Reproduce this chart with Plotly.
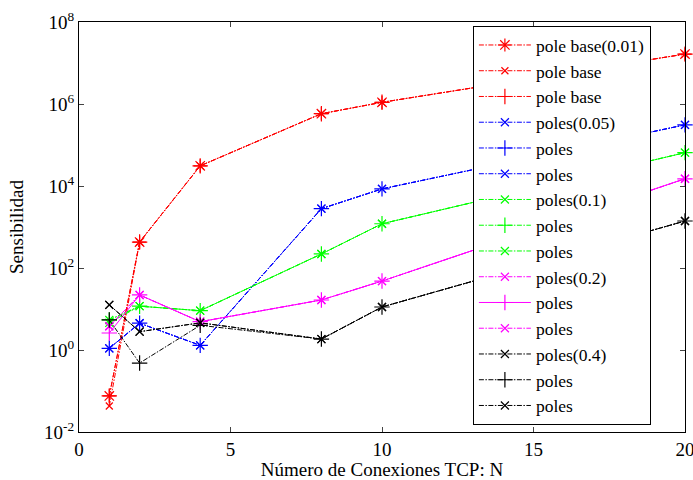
import plotly.graph_objects as go

N = [1, 2, 4, 8, 10, 20]

# pole base (0.01) group - red
red_star = [0.076, 430, 3.1e4, 5.8e5, 1.1e6, 1.65e7]
red_x = [0.043, 430, 3.1e4, 5.8e5, 1.1e6, 1.65e7]
red_plus = [0.076, 430, 3.1e4, 5.8e5, 1.1e6, 1.65e7]

# poles (0.05) group - blue
blue_a = [1.1, 4.5, 1.3, 2.8e3, 8.5e3, 3.1e5]
blue_b = [1.1, 4.5, 1.3, 2.8e3, 8.5e3, 3.1e5]
blue_c = [1.1, 4.5, 1.3, 2.8e3, 8.5e3, 3.1e5]

# poles (0.1) group - green
green_a = [5.4, 11.7, 9.1, 220, 1.2e3, 6.5e4]
green_b = [5.4, 11.7, 9.1, 220, 1.2e3, 6.5e4]
green_c = [4.6, 11.7, 9.1, 220, 1.2e3, 6.5e4]

# poles (0.2) group - magenta
mag_a = [3.8, 22, 4.9, 16.6, 48, 1.5e4]
mag_b = [2.6, 22, 4.9, 16.6, 48, 1.5e4]
mag_c = [3.8, 22, 4.9, 16.6, 48, 1.5e4]

# poles (0.4) group - black
blk_a = [12.6, 2.8, 4.6, 1.85, 11.2, 1.4e3]
blk_b = [5.4, 0.48, 4.0, 1.85, 11.2, 1.4e3]
blk_c = [12.6, 2.8, 4.6, 1.85, 11.2, 1.4e3]

y_tickvals = [1e-2, 1e0, 1e2, 1e4, 1e6, 1e8]
y_ticktext = ["10<sup>-2</sup>", "10<sup>0</sup>", "10<sup>2</sup>",
              "10<sup>4</sup>", "10<sup>6</sup>", "10<sup>8</sup>"]
x_tickvals = [0, 5, 10, 15, 20]

DD = "5px,1.5px,1.5px,1.5px"
series = [
    ("pole base(0.01)", red_star, "#ff0000", "asterisk-open", DD, 11),
    ("pole base", red_x, "#ff0000", "x-thin-open", DD, 7),
    ("pole base", red_plus, "#ff0000", "cross-thin-open", DD, 11),
    ("poles(0.05)", blue_a, "#0000ff", "x-thin-open", DD, 8),
    ("poles", blue_b, "#0000ff", "cross-thin-open", DD, 11),
    ("poles", blue_c, "#0000ff", "x-thin-open", DD, 8),
    ("poles(0.1)", green_a, "#00ff00", "x-thin-open", DD, 8),
    ("poles", green_b, "#00ff00", "cross-thin-open", DD, 11),
    ("poles", green_c, "#00ff00", "x-thin-open", DD, 8),
    ("poles(0.2)", mag_a, "#ff00ff", "x-thin-open", DD, 8),
    ("poles", mag_b, "#ff00ff", "cross-thin-open", "solid", 11),
    ("poles", mag_c, "#ff00ff", "x-thin-open", DD, 8),
    ("poles(0.4)", blk_a, "#000000", "x-thin-open", DD, 8),
    ("poles", blk_b, "#000000", "cross-thin-open", DD, 11),
    ("poles", blk_c, "#000000", "x-thin-open", DD, 8),
]

fig = go.Figure()
for name, vals, color, sym, dash, size in series:
    fig.add_trace(go.Scatter(
        x=N, y=vals, name=name, mode="lines+markers",
        line=dict(color=color, width=1, dash=dash),
        marker=dict(symbol=sym, size=size, color=color,
                    line=dict(color=color, width=1.2)),
        cliponaxis=False,
    ))

font_family = "Liberation Serif"
fig.update_layout(
    width=693, height=480,
    margin=dict(l=79, r=8, t=22, b=48, autoexpand=False),
    paper_bgcolor="white", plot_bgcolor="white",
    font=dict(family=font_family, size=19, color="black"),
    showlegend=True,
    legend=dict(
        x=0.65, y=0.99, xanchor="left", yanchor="top",
        bgcolor="white", bordercolor="black", borderwidth=1,
        font=dict(family=font_family, size=17.5, color="black"),
        tracegroupgap=0, itemwidth=52, maxheight=470,
    ),
)
fig.update_xaxes(
    range=[0, 20], tickvals=x_tickvals, ticks="inside", ticklen=5,
    showline=True, linecolor="black", linewidth=1, mirror="ticks",
    showgrid=False, zeroline=False, ticklabeloverflow="allow",
    automargin=False,
    title=dict(text="Número de Conexiones TCP: N", standoff=0,
               font=dict(family=font_family, size=19)),
    tickfont=dict(family=font_family, size=19),
)
fig.update_yaxes(
    type="log", range=[-2, 8], tickvals=y_tickvals, ticktext=y_ticktext,
    ticks="inside", ticklen=5,
    showline=True, linecolor="black", linewidth=1, mirror="ticks",
    showgrid=False, zeroline=False, ticklabeloverflow="allow",
    automargin=False,
    title=dict(text="Sensibilidad", standoff=15,
               font=dict(family=font_family, size=19)),
    tickfont=dict(family=font_family, size=19),
)

fig.write_html("out.html")
